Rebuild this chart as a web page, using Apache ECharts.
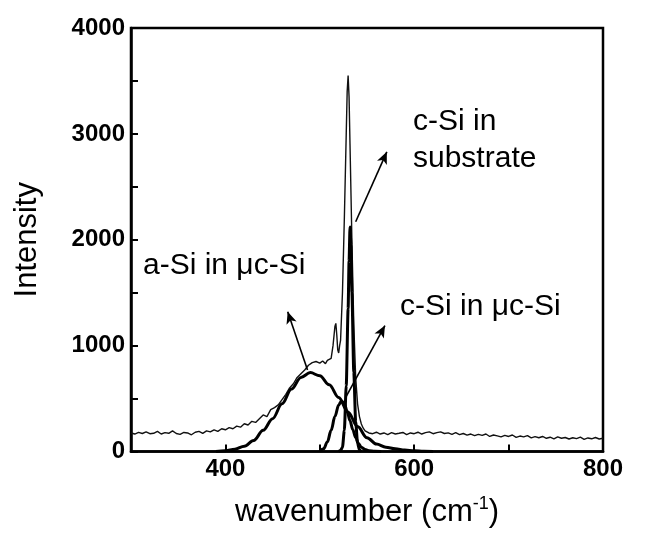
<!DOCTYPE html>
<html>
<head>
<meta charset="utf-8">
<script src="https://cdn.jsdelivr.net/npm/echarts@6/dist/echarts.min.js"></script>
<style>html,body{margin:0;padding:0;background:#fff}#c{width:645px;height:533px}</style>
</head>
<body>
<div id="c"></div>
<script>
// Measured Raman spectrum (thin noisy line)
var spectrumX = [300,304,308,312,316,320,324,328,332,336,340,344,348,352,356,360,364,368,372,376,380,384,388,392,396,400,404,408,412,416,420,424,428,432,436,440,444,448,452,456,460,464,468,472,476,480,484,488,492,496,500,503,506,508,510,512,514,516,517,518,519,520,521,522,524,526,528,529,530,531,532,534,536,538,540,542,544,546,548,550,552,556,560,564,568,572,576,580,584,588,592,596,600,604,608,612,616,620,624,628,632,636,640,644,648,652,656,660,664,668,672,676,680,684,688,692,696,700,704,708,712,716,720,724,728,732,736,740,744,748,752,756,760,764,768,772,776,780,784,788,792,796,800];
var spectrumY = [175,165,180,170,185,168,172,190,165,178,172,195,170,162,180,175,158,182,190,172,195,185,205,190,215,205,225,215,240,230,262,250,285,275,310,345,330,395,415,440,490,540,600,640,700,735,770,815,840,850,835,855,830,860,850,880,1000,1180,1210,1100,960,930,1000,1050,1500,2200,3000,3400,3550,3350,2900,2000,1200,700,450,330,260,220,195,185,175,168,182,165,175,160,178,165,172,180,160,175,168,182,165,178,185,168,178,185,170,176,162,178,160,170,155,165,150,162,152,165,142,156,148,138,152,142,156,134,146,138,150,128,140,130,142,125,135,120,138,125,132,118,130,122,135,115,128,120,132,118,125];
// a-Si in uc-Si component (thick)
var aSiX = [390,400,410,420,430,440,450,460,470,480,490,500,510,520,530,540,550,560,570,580,590,600,610,620];
var aSiY = [0,8,22,50,105,200,310,450,590,700,745,715,630,510,370,235,130,70,40,25,14,6,2,0];
// c-Si in uc-Si component (thick)
var cSiMicroX = [500,504,508,512,516,520,523,526,529,532,535,538,541,544,548,552,558,565];
var cSiMicroY = [0,25,90,200,330,440,478,450,380,290,205,130,75,40,18,8,2,0];
// c-Si in substrate component (thick)
var cSiSubX = [520,522,524,526,528,530,531,532,533,534,536,538,540,542,544];
var cSiSubY = [0,10,40,200,620,1350,1800,2120,1950,1500,750,280,80,15,0];
// Annotation arrows [fromX, fromY, toX, toY] in data units
var arrowASi = [487, 770, 466, 1320];
var arrowMicro = [528, 520, 569, 1190];
var arrowSub = [538, 2170, 571, 2830];
// Tick labels
var xTickLabels = [400, 600, 800];
var yTickLabels = [0, 1000, 2000, 3000, 4000];

function zip(xs, ys){ return xs.map(function(x,i){ return [x, ys[i]]; }); }
var FF = '"Liberation Sans", Arial, sans-serif';

function arrow(a){
  return [{coord:[a[0],a[1]], symbol:'none'},{coord:[a[2],a[3]], symbol:'arrow', symbolSize:[8,12]}];
}

var chart = echarts.init(document.getElementById('c'), null, {renderer:'canvas'});
chart.setOption({
  animation: false,
  backgroundColor: '#fff',
  grid: {left:131, right:42, top:28, bottom:81, show:true, borderColor:'#000', borderWidth:2.5, backgroundColor:'transparent'},
  xAxis: {
    type:'value', min:300, max:800, interval:100,
    name:'{a|wavenumber (cm}{s|-1}{a|)}',
    nameLocation:'middle', nameGap:44,
    nameTextStyle:{rich:{
      a:{fontSize:31, fontFamily:FF, color:'#000', lineHeight:34},
      s:{fontSize:18, fontFamily:FF, color:'#000', verticalAlign:'top', lineHeight:34}
    }},
    axisLine:{onZero:false, lineStyle:{color:'#000', width:2.5}},
    axisTick:{inside:true, length:7, lineStyle:{color:'#000', width:2}},
    axisLabel:{margin:6, fontSize:24, fontWeight:'bold', fontFamily:FF, color:'#000',
      formatter:function(v){ return xTickLabels.indexOf(v) >= 0 ? String(v) : ''; }},
    splitLine:{show:false}
  },
  yAxis: {
    type:'value', min:0, max:4000, interval:500,
    name:'Intensity', nameLocation:'middle', nameGap:88, nameRotate:90,
    nameTextStyle:{fontSize:31, fontFamily:FF, color:'#000'},
    axisLine:{lineStyle:{color:'#000', width:2.5}},
    axisTick:{inside:true, length:7, lineStyle:{color:'#000', width:2}},
    axisLabel:{margin:6, fontSize:24, fontWeight:'bold', fontFamily:FF, color:'#000',
      formatter:function(v){ return yTickLabels.indexOf(v) >= 0 ? String(v) : ''; }},
    splitLine:{show:false}
  },
  series: [
    {type:'line', data:zip(spectrumX, spectrumY), showSymbol:false, symbol:'none',
      lineStyle:{color:'#111', width:1.4}, z:3},
    {type:'line', data:zip(aSiX, aSiY), showSymbol:false, symbol:'none', smooth:0.35, smoothMonotone:'x',
      lineStyle:{color:'#000', width:3}, z:4,
      markLine:{silent:true, symbol:['none','arrow'], symbolSize:12, label:{show:false},
        itemStyle:{color:'#000'},
        lineStyle:{color:'#000', width:1.6, type:'solid'},
        data:[arrow(arrowASi), arrow(arrowMicro), arrow(arrowSub)]}},
    {type:'line', data:zip(cSiMicroX, cSiMicroY), showSymbol:false, symbol:'none', smooth:0.35, smoothMonotone:'x',
      lineStyle:{color:'#000', width:3}, z:4},
    {type:'line', data:zip(cSiSubX, cSiSubY), showSymbol:false, symbol:'none', smooth:0.25, smoothMonotone:'x',
      lineStyle:{color:'#000', width:3}, z:4}
  ],
  graphic: [
    {type:'text', left:413, top:107, style:{text:'c-Si in', fontSize:30, fontFamily:FF, fill:'#000'}},
    {type:'text', left:413, top:144, style:{text:'substrate', fontSize:30, fontFamily:FF, fill:'#000'}},
    {type:'text', left:143, top:251, style:{text:'a-Si in \u03bcc-Si', fontSize:30, fontFamily:FF, fill:'#000'}},
    {type:'text', left:400, top:292, style:{text:'c-Si in \u03bcc-Si', fontSize:30, fontFamily:FF, fill:'#000'}}
  ]
});
</script>
</body>
</html>
